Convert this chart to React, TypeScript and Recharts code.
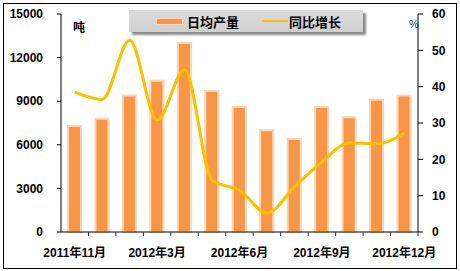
import React from 'react';
import { ComposedChart, Bar, Line, XAxis, YAxis } from 'recharts';

const months = [
  '2011年11月', '2011年12月', '2012年2月', '2012年3月', '2012年4月', '2012年5月', '2012年6月',
  '2012年7月', '2012年8月', '2012年9月', '2012年10月', '2012年11月', '2012年12月',
];
const dailyOutput = [7300, 7800, 9400, 10400, 13000, 9700, 8600, 7000, 6400, 8600, 7900, 9100, 9400];
const yoyGrowth = [38.5, 36.5, 52.8, 30.8, 44.6, 14.2, 11.5, 5.2, 12.4, 19.3, 24.5, 24.3, 27.2];
const leftTicks = [0, 3000, 6000, 9000, 12000, 15000];
const rightTicks = [0, 10, 20, 30, 40, 50, 60];

const data = months.map((m, i) => ({ month: m, output: dailyOutput[i], growth: yoyGrowth[i] }));

const numFont = { fontFamily: '"Liberation Sans", Arial, sans-serif', fontWeight: 700, fontSize: 12, fill: '#000' };
const cjkFont = '"Liberation Sans", "Noto Sans CJK SC", sans-serif';

// y here is axis + tickSize(6) + tickMargin(2); ticks sit between categories, labels every 3rd
const MonthTick = (props: any) => {
  const { x, y, payload, index } = props;
  const half = payload.offset || 0;
  return (
    <g>
      <line x1={x + half} y1={y - 8} x2={x + half} y2={y - 4} stroke="#333" />
      {index % 3 === 0 && (
        <text x={x} y={y + 17} textAnchor="middle" fontFamily={cjkFont} fontWeight={700} fontSize={12} fill="#000">
          {payload.value}
        </text>
      )}
    </g>
  );
};

// legend drawn as a plain overlay so it doesn't eat plot space
const LegendBox = () => (
  <div
    style={{
      position: 'absolute',
      left: 129,
      top: 10,
      width: 234,
      height: 22,
      background: 'linear-gradient(#dcdcdc, #d0d0d0)',
      boxShadow: '3px 3px 2px #8c8c8c',
      display: 'flex',
      alignItems: 'center',
      fontFamily: '"Noto Sans CJK SC", sans-serif',
      fontWeight: 700,
      fontSize: 13,
      color: '#000',
    }}
  >
    <div style={{ width: 25, height: 5, background: '#f79646', border: '1px solid #fbd5b5', marginLeft: 27 }} />
    <span style={{ marginLeft: 4 }}>日均产量</span>
    <div style={{ width: 26, height: 2, background: '#ffc000', marginLeft: 23 }} />
    <span style={{ marginLeft: 1 }}>同比增长</span>
  </div>
);

export default function App() {
  return (
    <div style={{ position: 'absolute', left: 0, top: 0, width: 460, height: 271, background: '#fff' }}>
      <div style={{ position: 'absolute', left: 3, top: 3, width: 452, height: 264, border: '1px solid #000' }} />
      <ComposedChart width={460} height={271} data={data} margin={{ top: 14, right: 0, bottom: 0, left: 0 }}>
        <XAxis
          dataKey="month"
          interval={0}
          tick={<MonthTick />}
          tickLine={false}
          axisLine={{ stroke: '#000' }}
          height={39}
        />
        <YAxis
          yAxisId="left"
          width={61}
          domain={[0, 15000]}
          ticks={leftTicks}
          tickSize={4}
          tickMargin={14}
          tick={numFont}
          axisLine={{ stroke: '#000' }}
          tickLine={{ stroke: '#000' }}
          interval={0}
        />
        <YAxis
          yAxisId="right"
          orientation="right"
          width={42}
          domain={[0, 60]}
          ticks={rightTicks}
          tickSize={5}
          tickMargin={9}
          tick={{ ...numFont, textAnchor: 'start' }}
          axisLine={{ stroke: '#000' }}
          tickLine={{ stroke: '#000' }}
          interval={0}
        />
        <Bar
          yAxisId="left"
          dataKey="output"
          name="日均产量"
          fill="#f79646"
          stroke="#fbd5b5"
          strokeWidth={2}
          barSize={13}
          isAnimationActive={false}
        />
        <Line
          yAxisId="right"
          type="monotone"
          dataKey="growth"
          name="同比增长"
          stroke="#ffc000"
          strokeWidth={3}
          dot={false}
          isAnimationActive={false}
        />
        <text x={73} y={32} fontFamily={cjkFont} fontWeight={700} fontSize={12} fill="#000">吨</text>
        <text x={409} y={28} fontFamily={numFont.fontFamily} fontSize={11} fill="#333">%</text>
      </ComposedChart>
      <LegendBox />
    </div>
  );
}
